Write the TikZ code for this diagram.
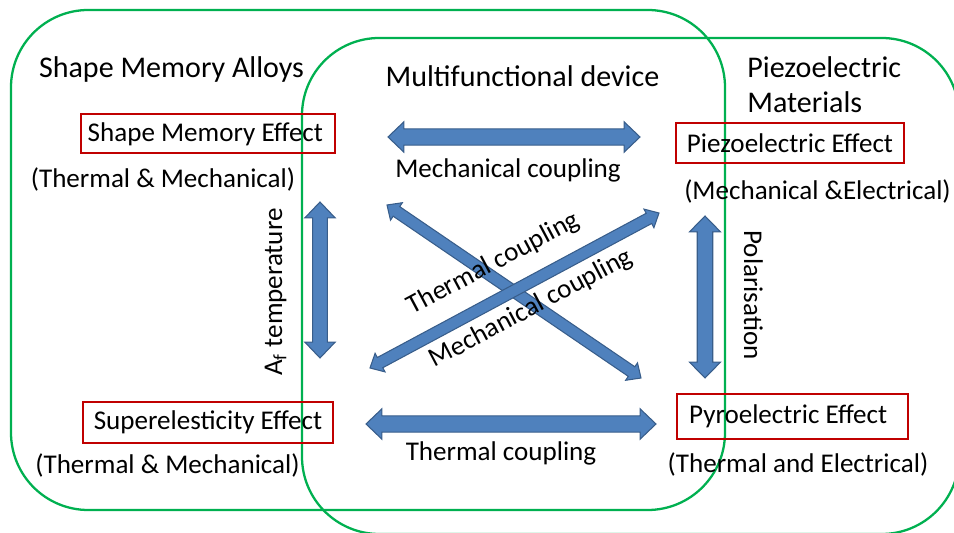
\documentclass[tikz,border=0pt]{standalone}
\usepackage{fontspec}
\setmainfont{Carlito}
\usetikzlibrary{calc}

\definecolor{regiongreen}{HTML}{00B050}
\definecolor{boxred}{HTML}{C00000}
\definecolor{arrowblue}{HTML}{4F81BD}
\definecolor{arrowedge}{HTML}{385D8A}

% wide two-headed arrow: from, to, half shaft, half head, head length
\newcommand{\blockarrow}[5]{%
    \path[block arrow] let \p1 = ($(#2)-(#1)$), \n1 = {atan2(\y1,\x1)} in
        (#1) -- ($(#1)+(\n1:#5)+(\n1+90:#4)$) -- ($(#1)+(\n1:#5)+(\n1+90:#3)$)
        -- ($(#2)+(\n1:-#5)+(\n1+90:#3)$) -- ($(#2)+(\n1:-#5)+(\n1+90:#4)$)
        -- (#2)
        -- ($(#2)+(\n1:-#5)+(\n1-90:#4)$) -- ($(#2)+(\n1:-#5)+(\n1-90:#3)$)
        -- ($(#1)+(\n1:#5)+(\n1-90:#3)$) -- ($(#1)+(\n1:#5)+(\n1-90:#4)$)
        -- cycle;
}

\begin{document}
\begin{tikzpicture}[
            x = 0.02cm, % one pixel of the layout
            y = -0.02cm, % y grows downwards
            inner sep = 0pt
        ]

        \tikzstyle{region}=[
            draw = regiongreen,
            line width = 1.3pt,
            rounded corners = 44pt
        ]
        \tikzstyle{heading}=[font = \fontsize{17.1}{20}\selectfont]
        \tikzstyle{smalltext}=[font = \fontsize{15.4}{18}\selectfont]
        \tikzstyle{effect}=[
            smalltext,
            draw = boxred,
            line width = 1.2pt
        ]
        \tikzstyle{block arrow}=[
            fill = arrowblue,
            draw = arrowedge,
            line width = 0.6pt
        ]

        \useasboundingbox (0,0) rectangle (954,533);

        % material regions
        \draw[region] (11,10) rectangle (725,510);
        \draw[region] (302,38) rectangle (959,534);

        % arrow ends
        \coordinate (mcl) at (388,137);
        \coordinate (mcr) at (640,137);
        \coordinate (tcl) at (366,424);
        \coordinate (tcr) at (656,424);
        \coordinate (aft) at (320,202);
        \coordinate (afb) at (320,358);
        \coordinate (polt) at (705,216);
        \coordinate (polb) at (705,378);
        \coordinate (dga) at (387,205);
        \coordinate (dgb) at (641,378);
        \coordinate (dgc) at (370,368);
        \coordinate (dgd) at (659,213);

        \blockarrow{mcl}{mcr}{4.6pt}{8.6pt}{9pt}
        \blockarrow{tcl}{tcr}{4.6pt}{8.6pt}{9pt}
        \blockarrow{aft}{afb}{4.2pt}{8.6pt}{9pt}
        \blockarrow{polt}{polb}{4.4pt}{8.8pt}{9pt}
        \blockarrow{dga}{dgb}{3.3pt}{6pt}{6.5pt}
        \blockarrow{dgc}{dgd}{3.3pt}{6pt}{6.5pt}

        % titles
	\node[heading, anchor=base] (sma) at (171.5,78) {Shape Memory Alloys};
	\node[heading, anchor=base] (mfd) at (522.5,87) {Multifunctional device};
	\node[heading, anchor=north west, align=left] (pzm) at (747,56) {Piezoelectric\\Materials};

        % effects
	\node[effect, minimum width=5.08cm, minimum height=0.78cm, text depth=0.05cm] (sme) at (208,133.5) {Shape Memory Effect\hspace*{3pt}};
	\node[effect, minimum width=5cm, minimum height=0.82cm] (sue) at (208,422.5) {Superelesticity Effect};
	\node[effect, minimum width=4.56cm, minimum height=0.8cm] (pze) at (790,143) {Piezoelectric Effect};
	\node[effect, minimum width=4.62cm, minimum height=0.9cm] (pye) at (792.5,416.5) {Pyroelectric Effect\hspace*{5pt}};

	\node[smalltext, anchor=base] (smetm) at (163,188) {(Thermal \& Mechanical)};
	\node[smalltext, anchor=base] (suetm) at (167.5,474) {(Thermal \& Mechanical)};
	\node[smalltext, anchor=base] (pzeme) at (817.5,200) {(Mechanical \&Electrical)};
	\node[smalltext, anchor=base] (pyete) at (798,473) {(Thermal and Electrical)};

        % couplings
	\node[smalltext, anchor=base] (mc) at (508,178) {Mechanical coupling};
	\node[smalltext, anchor=base] (tc) at (501,461) {Thermal coupling};
	\node[smalltext, anchor=base, rotate=28] (dtc) at (497,270) {Thermal coupling};
	\node[smalltext, anchor=base, rotate=28] (dmc) at (534.5,315) {Mechanical coupling};
	\node[smalltext, anchor=base, rotate=90] (af) at (282,292) {A\textsubscript{f} temperature};
	\node[smalltext, anchor=base, rotate=-90] (pol) at (744,295) {Polarisation};

    \end{tikzpicture}
\end{document}
